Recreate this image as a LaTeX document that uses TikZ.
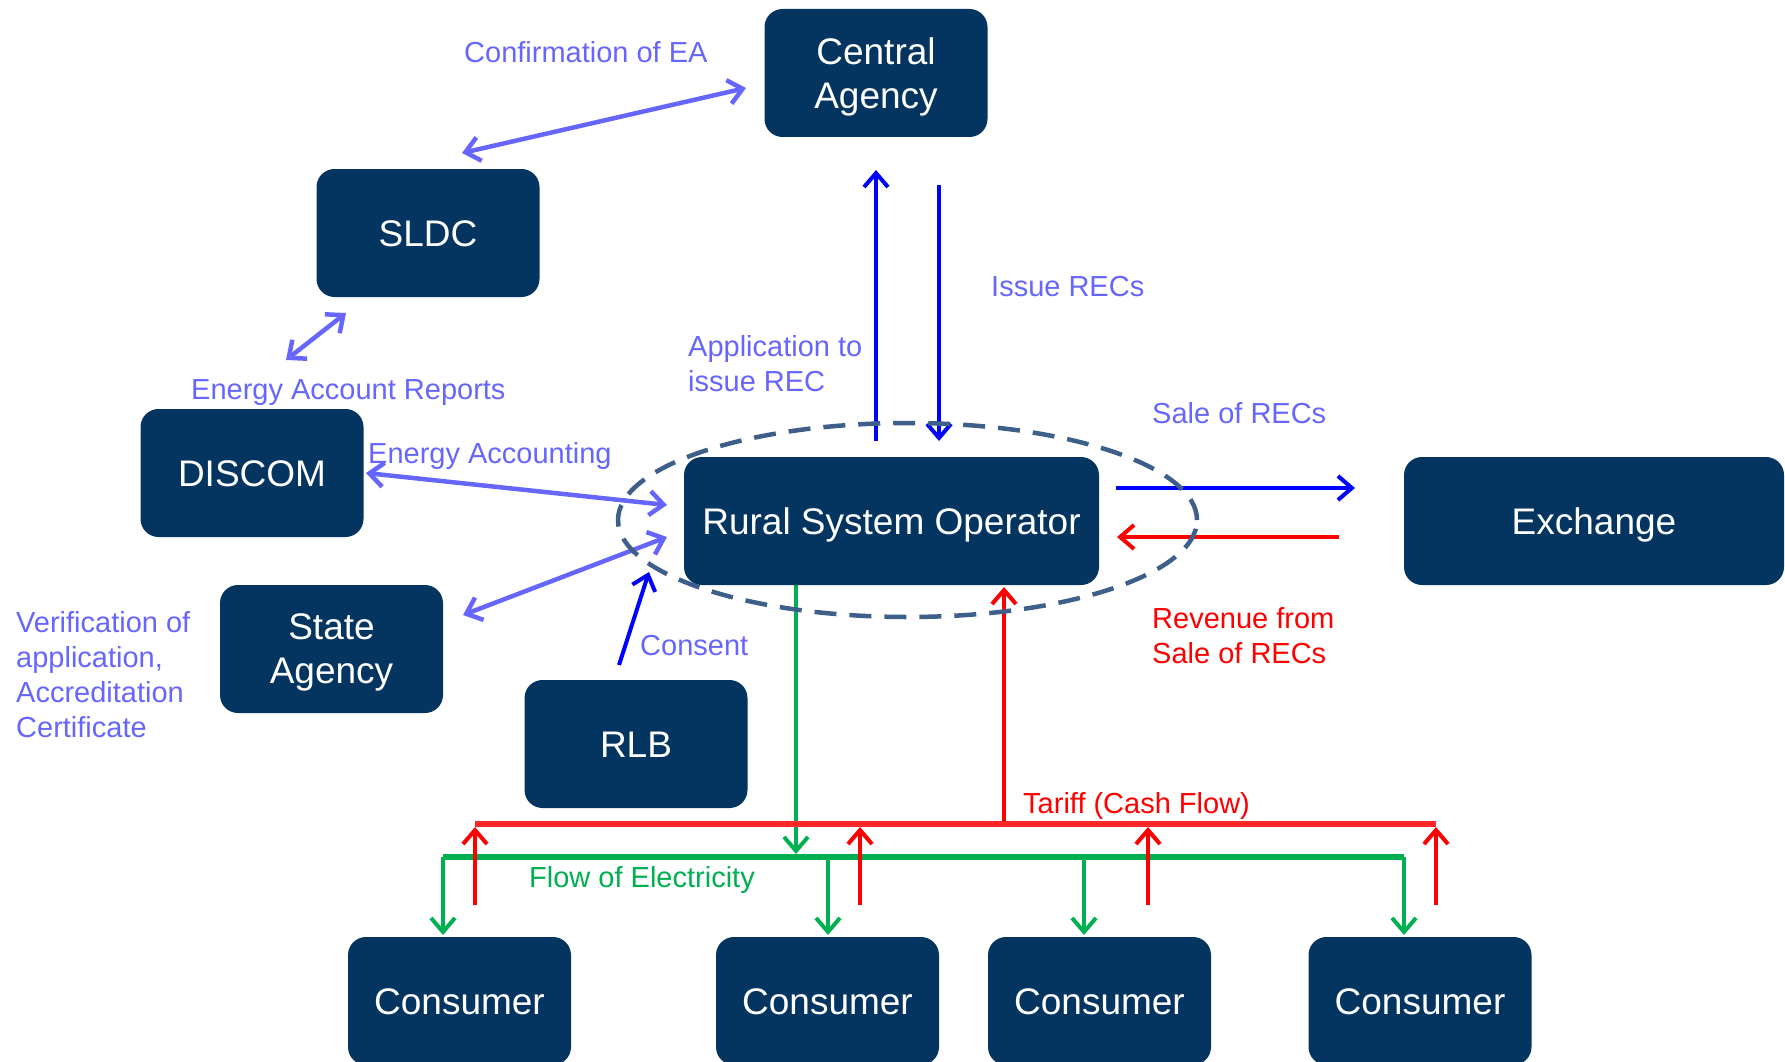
\documentclass[tikz,border=0pt]{standalone}
\usepackage{fontspec}
\setmainfont{Liberation Sans}
\usetikzlibrary{arrows.meta}
\definecolor{navy}{RGB}{3,53,96}
\definecolor{lblue}{RGB}{102,102,255}
\definecolor{dblue}{RGB}{0,0,255}
\definecolor{rred}{RGB}{255,0,0}
\definecolor{busred}{RGB}{255,40,40}
\definecolor{ggreen}{RGB}{0,176,80}
\definecolor{ellc}{RGB}{62,95,138}
\begin{document}
\begin{tikzpicture}[x=1pt,y=-1pt,
  box/.style={fill=navy, rounded corners=18pt, minimum width=223pt, minimum height=128pt,
    text=white, align=center, font=\fontsize{37}{44}\selectfont, inner sep=0pt, text depth=0pt},
  one/.style={text height=27pt},
  lbl/.style={anchor=base west, align=left, font=\fontsize{29}{35}\selectfont, inner sep=0pt},
  tipb/.tip={Straight Barb[length=14pt,width=24pt]},
  arr/.style={line width=4pt, -tipb},
  darr/.style={line width=4.5pt, tipb-tipb},
  bus/.style={line width=5.5pt},
]
\useasboundingbox (0,0) rectangle (1785,1062);

% coordinates for free connector ends
\coordinate (conf1) at (462,153);  \coordinate (conf2) at (746,88);
\coordinate (ear1) at (346,313);   \coordinate (ear2) at (286,360);
\coordinate (ea1) at (366,473);    \coordinate (ea2) at (667,505);
\coordinate (sa1) at (463,615);    \coordinate (sa2) at (667,537);
\coordinate (cs1) at (619,665);    \coordinate (cs2) at (649,572);
\coordinate (ap1) at (876,441);    \coordinate (ap2) at (876,170);
\coordinate (is1) at (939,185);    \coordinate (is2) at (939,441);
\coordinate (sl1) at (1116,488);   \coordinate (sl2) at (1355,488);
\coordinate (rv1) at (1339,537);   \coordinate (rv2) at (1117,537);
\coordinate (gm1) at (796,585);    \coordinate (gm2) at (796,854);
\coordinate (rm1) at (1004,824);   \coordinate (rm2) at (1004,587);
\coordinate (rb1) at (475,824);    \coordinate (rb2) at (1436,824);
\coordinate (gb1) at (443,857);    \coordinate (gb2) at (1404,857);

% connectors
\draw[darr, lblue] (conf1) -- (conf2);
\draw[darr, lblue] (ear1) -- (ear2);
\draw[darr, lblue] (ea1) -- (ea2);
\draw[darr, lblue] (sa1) -- (sa2);
\draw[arr, dblue] (cs1) -- (cs2);
\draw[arr, dblue] (ap1) -- (ap2);
\draw[arr, dblue] (is1) -- (is2);
\draw[arr, dblue] (sl1) -- (sl2);
\draw[arr, rred] (rv1) -- (rv2);
\draw[arr, ggreen] (gm1) -- (gm2);
\draw[arr, rred] (rm1) -- (rm2);
\draw[bus, busred] (rb1) -- (rb2);
\draw[bus, ggreen] (gb1) -- (gb2);
\foreach \gx/\rx [count=\i] in {443/475, 828/860, 1084/1148, 1404/1436}{
  \coordinate (gd\i a) at (\gx,857); \coordinate (gd\i b) at (\gx,935);
  \coordinate (ru\i a) at (\rx,905); \coordinate (ru\i b) at (\rx,827);
  \draw[arr, ggreen] (gd\i a) -- (gd\i b);
  \draw[arr, rred] (ru\i a) -- (ru\i b);
}

% dashed ellipse
\draw[ellc, line width=4.5pt, dash pattern=on 22pt off 13pt] (907.5,520) ellipse [x radius=289.5pt, y radius=97pt];

% boxes
\node[box] (ca) at (876,73) {Central\\Agency};
\node[box, one] (sldc) at (428,233) {SLDC};
\node[box, one] (discom) at (252,473) {DISCOM};
\node[box] (state) at (331.5,649) {State\\Agency};
\node[box, one] (rlb) at (636,744) {RLB};
\node[box, one, minimum width=415pt] (rso) at (891.5,521) {Rural System Operator};
\node[box, one, minimum width=380pt] (exch) at (1594,521) {Exchange};
\node[box, one] (c1) at (459.5,1001) {Consumer};
\node[box, one] (c2) at (827.5,1001) {Consumer};
\node[box, one] (c3) at (1099.5,1001) {Consumer};
\node[box, one] (c4) at (1420,1001) {Consumer};

% labels
\node[lbl, lblue] (lconf) at (464,63) {Confirmation of EA};
\node[lbl, lblue] (lissue) at (991,296) {Issue RECs};
\node[lbl, lblue] (lapp) at (688,391) {Application to\\issue REC};
\node[lbl, lblue] (lear) at (191,399) {Energy Account Reports};
\node[lbl, lblue] (lea) at (368,463) {Energy Accounting};
\node[lbl, lblue] (lver) at (16,737) {Verification of\\application,\\Accreditation\\Certificate};
\node[lbl, lblue] (lcons) at (640,655) {Consent};
\node[lbl, lblue] (lsale) at (1152,423) {Sale of RECs};
\node[lbl, rred] (lrev) at (1152,663) {Revenue from\\Sale of RECs};
\node[lbl, rred] (ltar) at (1023,813) {Tariff (Cash Flow)};
\node[lbl, ggreen] (lflow) at (529,887) {Flow of Electricity};
\end{tikzpicture}
\end{document}
